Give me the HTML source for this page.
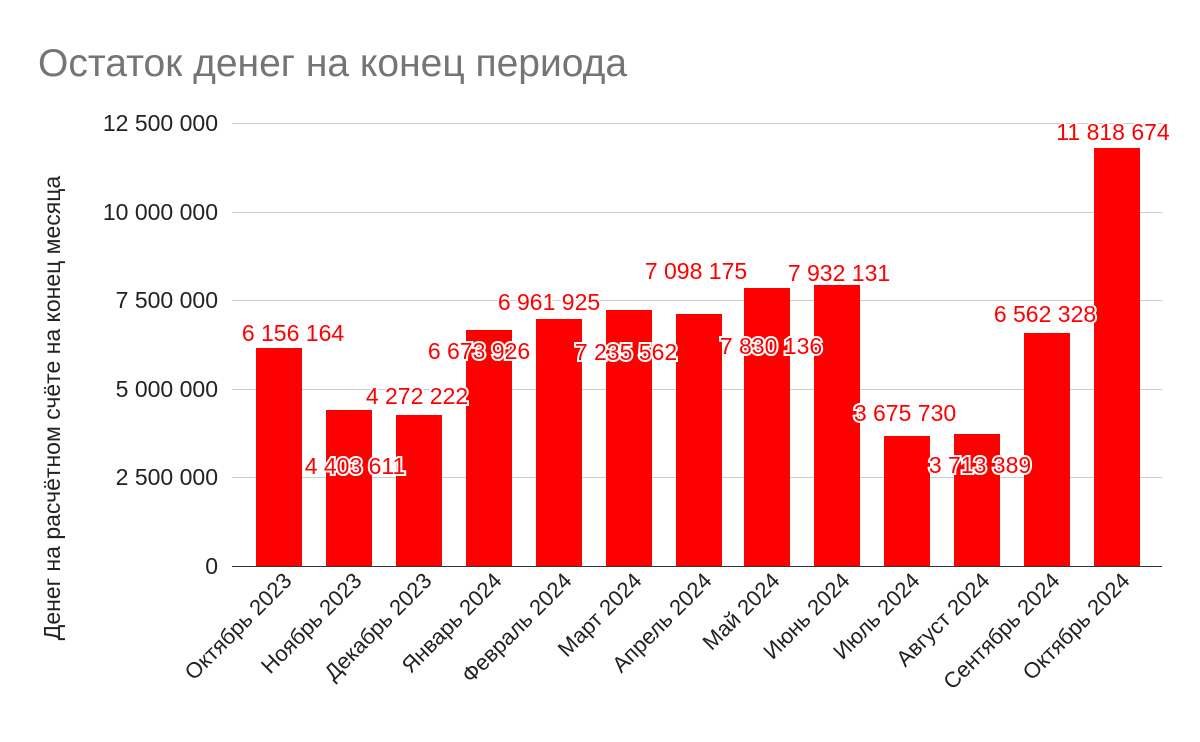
<!DOCTYPE html>
<html><head><meta charset="utf-8"><style>body{margin:0;background:#fff}svg{display:block}text{font-family:"Liberation Sans",sans-serif}</style></head><body>
<svg width="1200" height="742" viewBox="0 0 1200 742">
<text x="38" y="76" font-size="39" fill="#757575">Остаток денег на конец периода</text>
<g stroke="#cccccc" stroke-width="1">
<line x1="232" x2="1162" y1="123.5" y2="123.5"/><line x1="232" x2="1162" y1="212.5" y2="212.5"/>
<line x1="232" x2="1162" y1="300.5" y2="300.5"/><line x1="232" x2="1162" y1="389.5" y2="389.5"/>
<line x1="232" x2="1162" y1="477.5" y2="477.5"/></g>
<g font-size="23" fill="#222" text-anchor="end">
<text x="218" y="131">12 500 000</text><text x="218" y="220">10 000 000</text><text x="218" y="308">7 500 000</text>
<text x="218" y="397">5 000 000</text><text x="218" y="485">2 500 000</text><text x="218" y="574">0</text></g>
<text transform="translate(60,408) rotate(-90)" font-size="23" fill="#222" text-anchor="middle">Денег на расчётном счёте на конец месяца</text>
<g fill="#ff0000">
<rect x="256" y="348" width="46" height="218"/><rect x="326" y="410" width="46" height="156"/>
<rect x="396" y="415" width="46" height="151"/><rect x="466" y="330" width="46" height="236"/>
<rect x="536" y="319" width="46" height="247"/><rect x="606" y="310" width="46" height="256"/>
<rect x="676" y="314" width="46" height="252"/><rect x="744" y="288" width="46" height="278"/>
<rect x="814" y="285" width="46" height="281"/><rect x="884" y="436" width="46" height="130"/>
<rect x="954" y="434" width="46" height="132"/><rect x="1024" y="333" width="46" height="233"/>
<rect x="1094" y="148" width="46" height="418"/></g>
<line x1="232" x2="1162" y1="566.5" y2="566.5" stroke="#333"/>
<g font-size="23" fill="#ff0000" stroke="#fff" stroke-width="4" paint-order="stroke" text-anchor="middle">
<text x="293" y="341">6 156 164</text><text x="355" y="474">4 403 611</text><text x="417" y="404">4 272 222</text>
<text x="479" y="359">6 673 926</text><text x="549" y="310">6 961 925</text><text x="626" y="360">7 235 562</text>
<text x="696" y="279">7 098 175</text><text x="771" y="354">7 830 136</text><text x="839" y="281">7 932 131</text>
<text x="905" y="421">3 675 730</text><text x="980" y="473">3 713 389</text><text x="1045" y="322">6 562 328</text>
<text x="1113" y="140">11 818 674</text></g>
<g font-size="22" fill="#222" text-anchor="end">
<text transform="translate(293,582) rotate(-45)">Октябрь 2023</text>
<text transform="translate(363,582) rotate(-45)">Ноябрь 2023</text>
<text transform="translate(433,582) rotate(-45)">Декабрь 2023</text>
<text transform="translate(503,582) rotate(-45)">Январь 2024</text>
<text transform="translate(573,582) rotate(-45)">Февраль 2024</text>
<text transform="translate(643,582) rotate(-45)">Март 2024</text>
<text transform="translate(713,582) rotate(-45)">Апрель 2024</text>
<text transform="translate(781,582) rotate(-45)">Май 2024</text>
<text transform="translate(851,582) rotate(-45)">Июнь 2024</text>
<text transform="translate(921,582) rotate(-45)">Июль 2024</text>
<text transform="translate(991,582) rotate(-45)">Август 2024</text>
<text transform="translate(1061,582) rotate(-45)">Сентябрь 2024</text>
<text transform="translate(1131,582) rotate(-45)">Октябрь 2024</text></g>
</svg></body></html>
